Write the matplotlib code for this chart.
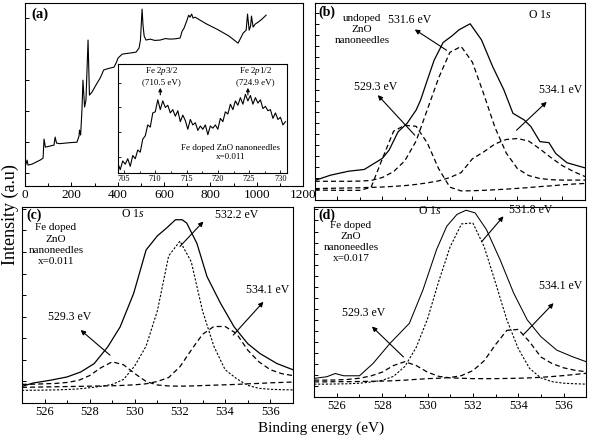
import numpy as np
import matplotlib
matplotlib.use("Agg")
import matplotlib.pyplot as plt
from matplotlib.ticker import MultipleLocator, AutoMinorLocator

plt.rcParams['font.family'] = ['Liberation Serif', 'DejaVu Serif']
plt.rcParams['mathtext.fontset'] = 'custom'
plt.rcParams['mathtext.rm'] = 'Liberation Serif'
plt.rcParams['mathtext.it'] = 'Liberation Serif:italic'

# ---- (a) survey spectrum (arb. units 0-100)
survey_e = [0, 9, 13, 30, 65, 78, 82, 88, 108, 125, 130, 136, 150, 173, 200, 224,
            233, 235, 240, 246, 250, 257, 263, 272, 278, 289, 306, 324, 332, 339,
            350, 367, 384, 395, 401, 419, 435, 453, 479, 492, 498, 505, 509, 514,
            522, 540, 560, 583, 605, 626, 650, 669, 678, 686, 699, 706, 712, 719,
            725, 734, 780, 830, 880, 919, 928, 941, 954, 960, 967, 973, 977, 984,
            993, 1006, 1023, 1040]
survey_i = [10.4, 14.2, 11.5, 12.0, 14.2, 15.3, 25.7, 21.3, 21.9, 22.4, 26.8, 23.5,
            23.2, 23.5, 23.8, 24.0, 27.3, 30.6, 27.9, 42.6, 57.9, 43.2, 47.0, 79.8,
            49.7, 51.4, 55.2, 59.0, 61.2, 63.4, 63.9, 64.5, 65.0, 67.8, 69.9, 72.1,
            72.4, 72.7, 73.2, 75.4, 79.8, 96.7, 88.0, 82.0, 79.8, 80.3, 79.6, 79.8,
            80.6, 80.3, 80.5, 80.9, 84.7, 86.3, 90.7, 93.4, 92.3, 94.0, 91.8, 92.3,
            88.8, 85.6, 82.0, 78.1, 80.3, 83.6, 85.2, 94.0, 85.2, 87.4, 92.9, 86.9,
            88.5, 89.6, 91.3, 93.4]

# ---- (a) inset: Fe 2p region
fe_e = np.arange(704.0, 731.0, 0.4)
fe_i = [9, 3, 11, 8, 13, 6, 16, 13, 21, 19, 31, 34, 44, 42, 55, 56, 67, 58, 66, 60,
        62, 55, 58, 52, 57, 47, 53, 48, 40, 49, 44, 46, 39, 43, 40, 44, 35, 43, 41,
        44, 40, 50, 47, 56, 54, 63, 58, 66, 62, 69, 63, 72, 66, 71, 63, 69, 64, 67,
        59, 61, 57, 58, 50, 55, 49, 51, 44, 47]

# ---- O 1s panels, fitted components on a 0.5 eV grid
o1s_grid = np.arange(525.0, 537.01, 0.5)

b_env_e = [525.0, 525.7, 526.5, 527.2, 528.0, 528.3, 528.7, 529.1, 529.5, 529.7,
           530.0, 530.3, 530.7, 531.1, 531.4, 531.9, 532.4, 532.9, 533.4, 533.8,
           534.3, 534.6, 535.0, 535.4, 535.7, 536.2, 537.0]
b_env = [10.0, 12.7, 14.7, 15.6, 21.2, 25.4, 34.7, 39.0, 45.7, 50.8, 61.0, 71.0,
         80.0, 83.4, 86.4, 89.5, 81.4, 67.8, 55.9, 44.1, 40.7, 37.3, 29.7, 29.2,
         23.7, 19.0, 16.4]
b_529 = [5.1, 5.1, 5.0, 5.0, 5.0, 6.5, 21, 35, 38, 37.5, 29, 16, 6.6, 4.7, 4.8,
         5.0, 5.3, 5.6, 6.0, 6.4, 6.9, 7.3, 7.8, 8.2, 8.5]
b_531 = [9.6, 9.6, 9.6, 9.6, 9.7, 10.0, 11.5, 14.5, 20, 30, 46, 62, 75, 78, 70,
         54, 37, 24, 16, 12.5, 11, 10.4, 10.2, 10.2, 10.2]
b_534 = [5.9, 6.0, 6.1, 6.2, 6.3, 6.5, 6.7, 7.0, 7.4, 8.0, 8.8, 9.8, 11.5, 14, 21,
         24.5, 28.5, 30.8, 31.3, 30, 26, 21.5, 17.5, 14.5, 12]

c_env_e = [525.0, 525.5, 526.25, 527.0, 527.6, 528.2, 528.8, 529.35, 529.95, 530.5,
           531.0, 531.4, 531.8, 532.1, 532.3, 532.75, 533.2, 533.8, 534.4, 535.0,
           535.55, 536.3, 537.0]
c_env = [8.5, 10.2, 11.6, 13.3, 15.8, 20.1, 28.6, 38.8, 55.9, 78, 85.2, 89.1, 93.4,
         93.4, 91.7, 81.4, 64.4, 50.8, 38.8, 30.3, 25.2, 20.1, 17.0]
c_529 = [9.5, 9.6, 9.8, 10.0, 10.5, 11.5, 14, 18, 21, 19.5, 15, 11, 9.2, 8.7, 8.6,
         8.7, 8.9, 9.1, 9.3, 9.5, 9.8, 10.0, 10.3, 10.5, 10.7]
c_532 = [6.5, 6.5, 6.6, 6.7, 6.9, 7.2, 7.8, 8.5, 9.5, 12, 19, 29, 47, 75, 82.5, 72,
         47, 29, 17, 12.5, 9, 7.5, 7.0, 6.8, 6.7]
c_534 = [8.0, 8.1, 8.2, 8.3, 8.4, 8.5, 8.6, 8.7, 8.8, 9.0, 9.3, 9.8, 11, 13, 18.5,
         27, 35, 39, 39, 35.5, 27, 21, 17, 15, 14]

d_env_e = [525.0, 525.56, 525.93, 526.3, 527.0, 527.6, 528.35, 529.2, 529.8, 530.4,
           530.85, 531.3, 531.7, 532.1, 532.6, 533.2, 533.8, 534.4, 535.0, 535.7,
           536.4, 537.0]
d_env = [9.7, 10.6, 12.3, 11.1, 11.1, 17.6, 28.2, 38.7, 56.3, 77.5, 89.8, 96.0, 98.2,
         96.8, 88.0, 72.2, 54.6, 40.5, 31.7, 24.6, 21.1, 18.5]
d_529 = [8.8, 8.8, 8.9, 9.2, 9.8, 11, 13, 16.5, 18.5, 16.5, 13, 10.8, 10, 9.8, 9.6,
         9.6, 9.6, 9.7, 9.8, 10, 10.3, 10.7, 11.2, 11.8, 12.4]
d_531 = [6.7, 6.7, 6.8, 6.9, 7.2, 7.8, 8.7, 10.8, 16, 26, 41, 61, 79, 91, 91.5, 79,
         60, 40.5, 25.5, 15, 10, 8, 7.2, 6.9, 6.7]
d_534 = [7.9, 7.9, 8.0, 8.0, 8.1, 8.2, 8.3, 8.5, 8.8, 9.2, 9.6, 9.8, 10.2, 11.2, 13.8,
         19, 27.5, 35, 35.5, 29, 21, 17.5, 15.3, 14, 13.2]

LONG = (4, 2.5)
SHORT = (2, 1.5)
ARROW = dict(arrowstyle='-|>', lw=0.8, color='k', mutation_scale=7, shrinkA=0, shrinkB=0)


def style_axis(ax, ystep):
    ax.tick_params(direction='in', which='both', top=False, right=False,
                   labelsize=9, pad=2, length=3, width=0.7)
    ax.tick_params(which='minor', length=2)
    ax.yaxis.set_major_locator(MultipleLocator(ystep))
    ax.set_yticklabels([])
    for s in ax.spines.values():
        s.set_linewidth(0.8)


def o1s_axis(ax, ystep, xlabels=True):
    style_axis(ax, ystep)
    ax.set_xlim(525, 537)
    ax.set_ylim(0, 100)
    ax.xaxis.set_major_locator(MultipleLocator(2))
    ax.xaxis.set_minor_locator(MultipleLocator(1))
    if not xlabels:
        ax.set_xticklabels([])


def peak_label(ax, txt, txy, head, tail):
    ax.text(txy[0], txy[1], txt, fontsize=8.5, ha='center', va='center')
    ax.annotate('', xy=head, xytext=tail, arrowprops=ARROW)


fig = plt.figure(figsize=(6.1, 4.4), dpi=100)

# ---------------- (a)
ax_a = fig.add_axes([0.041, 0.577, 0.456, 0.416])
ax_a.plot(survey_e, survey_i, color='k', lw=0.8)
ax_a.set_xlim(0, 1200)
ax_a.set_ylim(0, 100)
ax_a.tick_params(direction='in', which='both', top=False, right=False,
                 labelsize=9.5, pad=2, length=3, width=0.7)
ax_a.tick_params(which='minor', length=2)
ax_a.xaxis.set_major_locator(MultipleLocator(200))
ax_a.xaxis.set_minor_locator(MultipleLocator(100))
ax_a.set_yticks([7, 24, 41, 58, 75, 92])
ax_a.set_yticklabels([])
ax_a.text(0.022, 0.975, '(a)', transform=ax_a.transAxes, fontsize=10.5,
          fontweight='bold', ha='left', va='top')

ins = fig.add_axes([0.193, 0.607, 0.277, 0.248])
ins.plot(fe_e, fe_i, color='k', lw=0.8)
ins.set_xlim(704, 731)
ins.set_ylim(0, 100)
ins.tick_params(direction='in', which='both', top=False, right=False,
                labelsize=6, pad=1.5, length=2.5, width=0.6)
ins.tick_params(which='minor', length=1.5)
ins.xaxis.set_major_locator(MultipleLocator(5))
ins.xaxis.set_minor_locator(AutoMinorLocator(2))
ins.set_yticks([15, 37.5, 60, 82])
ins.set_yticklabels([])
ins.text(711.0, 89, 'Fe 2$\\mathit{p}$3/2\n(710.5 eV)', fontsize=6.5,
         ha='center', va='center', linespacing=1.15)
ins.annotate('', xy=(710.8, 78), xytext=(710.8, 71.5), arrowprops=dict(ARROW, mutation_scale=5))
ins.text(726.0, 89, 'Fe 2$\\mathit{p}$1/2\n(724.9 eV)', fontsize=6.5,
         ha='center', va='center', linespacing=1.15)
ins.annotate('', xy=(724.8, 78), xytext=(724.8, 71.5), arrowprops=dict(ARROW, mutation_scale=5))
ins.text(722.0, 19, 'Fe doped ZnO nanoneedles\nx=0.011', fontsize=6.5,
         ha='center', va='center', linespacing=1.2)

# ---------------- (b)
ax_b = fig.add_axes([0.516, 0.545, 0.443, 0.448])
o1s_axis(ax_b, 5.6, xlabels=False)
ax_b.plot(b_env_e, b_env, color='k', lw=0.9)
for comp in (b_529, b_531, b_534):
    ax_b.plot(o1s_grid, comp, color='k', lw=0.9, dashes=LONG)
ax_b.text(0.012, 0.99, '(b)', transform=ax_b.transAxes, fontsize=10,
          fontweight='bold', ha='left', va='top')
ax_b.text(0.175, 0.945, 'undoped\nZnO\nnanoneedles', transform=ax_b.transAxes,
          fontsize=8, ha='center', va='top', linespacing=1.3)
ax_b.text(535.0, 94, 'O 1$\\mathit{s}$', fontsize=8.5, ha='center', va='center')
peak_label(ax_b, '531.6 eV', (529.2, 91.4), (529.44, 86.6), (530.85, 76.1))
peak_label(ax_b, '529.3 eV', (527.7, 57.5), (527.8, 53.3), (529.44, 33.0))
peak_label(ax_b, '534.1 eV', (535.9, 55.8), (535.3, 49.9), (533.96, 35.5))

# ---------------- (c)
ax_c = fig.add_axes([0.036, 0.084, 0.444, 0.446])
o1s_axis(ax_c, 11)
ax_c.plot(c_env_e, c_env, color='k', lw=0.9)
ax_c.plot(o1s_grid, c_529, color='k', lw=0.9, dashes=LONG)
ax_c.plot(o1s_grid, c_534, color='k', lw=0.9, dashes=LONG)
ax_c.plot(o1s_grid, c_532, color='k', lw=0.8, dashes=SHORT)
ax_c.text(0.015, 0.99, '(c)', transform=ax_c.transAxes, fontsize=10,
          fontweight='bold', ha='left', va='top')
ax_c.text(0.125, 0.915, 'Fe doped\nZnO\nnanoneedles\nx=0.011', transform=ax_c.transAxes,
          fontsize=8, ha='center', va='top', linespacing=1.3)
ax_c.text(529.9, 96.4, 'O 1$\\mathit{s}$', fontsize=8.5, ha='center', va='center')
peak_label(ax_c, '532.2 eV', (534.5, 95.9), (533.04, 92.5), (532.0, 79.8))
peak_label(ax_c, '534.1 eV', (535.9, 57.6), (535.7, 51.6), (534.36, 34.6))
peak_label(ax_c, '529.3 eV', (527.1, 43.9), (527.6, 37.2), (528.9, 24.4))

# ---------------- (d)
ax_d = fig.add_axes([0.515, 0.098, 0.446, 0.432])
o1s_axis(ax_d, 5.8)
ax_d.plot(d_env_e, d_env, color='k', lw=0.75)
ax_d.plot(o1s_grid, d_529, color='k', lw=0.9, dashes=LONG)
ax_d.plot(o1s_grid, d_534, color='k', lw=0.9, dashes=LONG)
ax_d.plot(o1s_grid, d_531, color='k', lw=0.8, dashes=SHORT)
ax_d.text(0.015, 0.99, '(d)', transform=ax_d.transAxes, fontsize=10,
          fontweight='bold', ha='left', va='top')
ax_d.text(0.135, 0.925, 'Fe doped\nZnO\nnanoneedles\nx=0.017', transform=ax_d.transAxes,
          fontsize=8, ha='center', va='top', linespacing=1.3)
ax_d.text(530.1, 98, 'O 1$\\mathit{s}$', fontsize=8.5, ha='center', va='center')
peak_label(ax_d, '531.8 eV', (534.55, 98.4), (533.35, 95.0), (532.4, 81.8))
peak_label(ax_d, '534.1 eV', (535.85, 58.4), (535.56, 49.3), (534.22, 32.6))
peak_label(ax_d, '529.3 eV', (527.2, 44.2), (527.55, 37.0), (528.94, 21.0))

fig.text(0.017, 0.513, 'Intensity (a.u)', rotation=90, fontsize=13,
         ha='center', va='center')
fig.text(0.527, 0.027, 'Binding energy (eV)', fontsize=11, ha='center', va='center')

fig.savefig('out.png', dpi=100)
